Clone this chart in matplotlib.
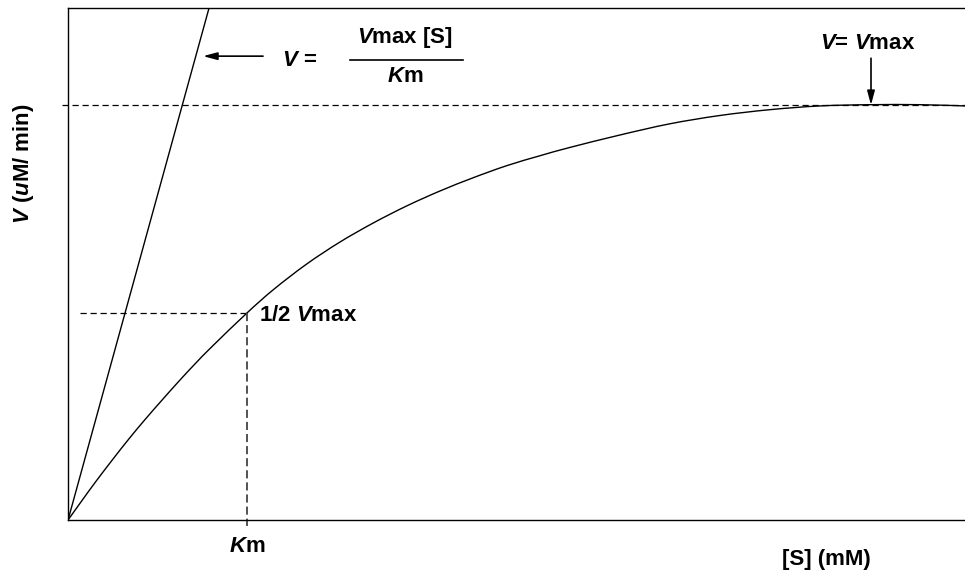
import matplotlib
matplotlib.use("Agg")
import matplotlib.pyplot as plt
from matplotlib.path import Path
from matplotlib.patches import PathPatch

plt.rcParams["font.family"] = ["Liberation Sans", "DejaVu Sans"]
plt.rcParams["mathtext.fontset"] = "custom"
plt.rcParams["mathtext.it"] = "Liberation Sans:bold:italic"
plt.rcParams["mathtext.rm"] = "Liberation Sans:bold"

# saturation curve, [S] in arbitrary units, V in units of Vmax
s_curve = [0.0, 0.156, 0.304, 0.491, 0.677, 0.862, 1.048, 1.234, 1.419, 1.605, 2.0,
           2.294, 2.661, 3.032, 3.404, 3.776, 4.147, 4.518, 4.891, 5.262, 5.596,
           6.154, 6.711, 7.269, 7.826, 8.383, 8.941, 9.498, 10.0]
v_curve = [0.0, 0.047, 0.091, 0.144, 0.195, 0.243, 0.289, 0.334, 0.377, 0.418, 0.5,
           0.556, 0.617, 0.670, 0.716, 0.757, 0.793, 0.825, 0.854, 0.878, 0.898,
           0.928, 0.955, 0.975, 0.989, 0.998, 1.001, 1.001, 0.998]

# initial-rate line through the origin
s_line = [0.0, 1.572]
v_line = [0.0, 1.234]

vmax = 1.0
km = 2.0


def smooth_path(xs, ys):
    """Catmull-Rom style cubic Bezier path through the given points."""
    pts = list(zip(xs, ys))
    verts = [pts[0]]
    codes = [Path.MOVETO]
    n = len(pts)
    for i in range(n - 1):
        p0 = pts[i - 1] if i > 0 else pts[i]
        p1 = pts[i]
        p2 = pts[i + 1]
        p3 = pts[i + 2] if i + 2 < n else pts[i + 1]
        c1 = (p1[0] + (p2[0] - p0[0]) / 6, p1[1] + (p2[1] - p0[1]) / 6)
        c2 = (p2[0] - (p3[0] - p1[0]) / 6, p2[1] - (p3[1] - p1[1]) / 6)
        verts += [c1, c2, p2]
        codes += [Path.CURVE4] * 3
    return Path(verts, codes)


fig = plt.figure(figsize=(9.65, 5.77), dpi=100)
ax = fig.add_axes([0.0705, 0.0988, 0.9295, 0.8873])
ax.set_xlim(0, 10)
ax.set_ylim(0, 1.234)
ax.set_xticks([])
ax.set_yticks([])
ax.spines["right"].set_visible(False)
for side in ("left", "bottom", "top"):
    ax.spines[side].set_linewidth(1.0)

ax.add_patch(PathPatch(smooth_path(s_curve, v_curve), facecolor="none",
                       edgecolor="black", lw=1.0))
ax.plot(s_line, v_line, color="black", lw=1.0)

ax.plot([-0.067, 10], [vmax, vmax], color="black", lw=0.9, ls=(0, (5, 3)), clip_on=False)
ax.plot([0.134, km], [vmax / 2, vmax / 2], color="black", lw=0.9, ls=(0, (5, 3)))
ax.plot([km, km], [vmax / 2, -0.0145], color="#444444", lw=1.3, ls=(0, (4.5, 2.2)),
        clip_on=False)

fs = 16
head = "-|>,head_length=0.6,head_width=0.16"
ax.text(2.586, 1.108, "$V$ =", fontsize=fs, fontweight="bold", ha="center", va="center")
ax.text(3.757, 1.164, "$V$max [S]", fontsize=fs, fontweight="bold", ha="center", va="center")
ax.plot([3.144, 4.404], [1.108, 1.108], color="black", lw=1.2)
ax.text(3.757, 1.068, "$K$m", fontsize=fs, fontweight="bold", ha="center", va="center")
ax.annotate("", xy=(1.505, 1.118), xytext=(2.174, 1.118),
            arrowprops=dict(arrowstyle=head, color="black", lw=1.2,
                            mutation_scale=14, shrinkA=0, shrinkB=0))

ax.text(8.919, 1.149, "$V$= $V$max", fontsize=fs, fontweight="bold", ha="center", va="center")
ax.annotate("", xy=(8.952, vmax), xytext=(8.952, 1.113),
            arrowprops=dict(arrowstyle=head, color="black", lw=1.2,
                            mutation_scale=14, shrinkA=0, shrinkB=0))

ax.text(2.129, 0.494, "1/2 $V$max", fontsize=fs, fontweight="bold", ha="left", va="center")
ax.text(km, -0.065, "$K$m", fontsize=fs, fontweight="bold", ha="center", va="center")
ax.text(8.46, -0.096, "[S] (mM)", fontsize=fs, fontweight="bold", ha="center", va="center")

fig.text(0.024, 0.717, "$V$ ($u$M/ min)", fontsize=fs, fontweight="bold",
         rotation=90, ha="center", va="center")

fig.savefig("out.png", dpi=100)
